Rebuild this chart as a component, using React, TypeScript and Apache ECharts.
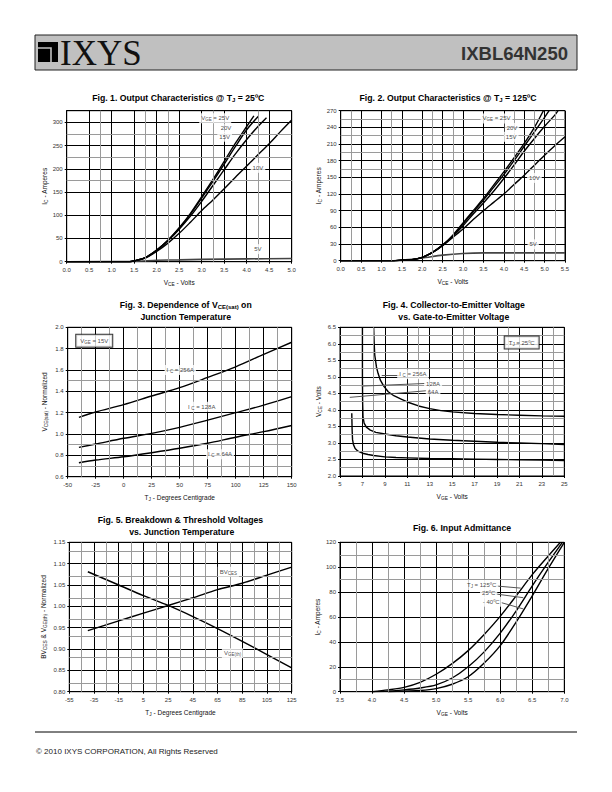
import React, { useEffect, useRef } from "react";
import * as echarts from "echarts";

const NARROW = "'Liberation Sans Narrow','Arial Narrow','Liberation Sans',Arial,sans-serif";
const SANS = "'Liberation Sans',Arial,Helvetica,sans-serif";
const SERIF = "'Liberation Serif','Times New Roman',serif";

// ---------- Fig. 1  Output characteristics @ Tj = 25 C  (VCE [V], IC [A]) ----------
const fig1VGE25 = [[0,0],[1.4,0],[1.5,2],[1.75,9],[2.0,25],[2.25,46],[2.5,73],[2.75,104],[3.0,140],[3.25,177],[3.5,216],[3.75,255],[4.0,291],[4.16,314]];
const fig1VGE20 = [[0,0],[1.4,0],[1.5,2],[1.75,9],[2.0,25],[2.25,46],[2.5,72],[2.75,102],[3.0,137],[3.25,173],[3.5,210],[3.75,248],[4.0,284],[4.26,313]];
const fig1VGE15 = [[0,0],[1.4,0],[1.5,2],[1.75,9],[2.0,24],[2.25,45],[2.5,70],[2.75,98],[3.0,130],[3.25,164],[3.5,198],[3.75,232],[4.0,263],[4.25,291],[4.44,310]];
const fig1VGE10 = [[0,0],[1.4,0],[1.5,2],[1.75,8],[2.0,22],[2.25,40],[2.5,61],[2.75,85],[3.0,110],[3.25,133],[3.5,157],[3.75,182],[4.0,206],[4.25,230],[4.5,254],[4.75,280],[5.0,305]];
const fig1VGE5 = [[0,0],[1.5,1],[2.0,3],[2.5,4],[3.0,5],[4.0,6],[5.0,7]];

// ---------- Fig. 2  Output characteristics @ Tj = 125 C ----------
const fig2VGE25 = [[0,0],[1.3,0],[1.5,1],[1.75,2],[2.0,6],[2.25,15],[2.5,28],[2.75,46],[3.0,68],[3.25,90],[3.5,112],[3.75,136],[4.0,160],[4.25,185],[4.5,211],[4.75,240],[4.97,270]];
const fig2VGE20 = [[0,0],[1.3,0],[1.5,1],[1.75,2],[2.0,6],[2.25,15],[2.5,28],[2.75,45],[3.0,66],[3.25,88],[3.5,109],[3.75,132],[4.0,155],[4.25,180],[4.5,206],[4.75,232],[5.0,258],[5.11,270]];
const fig2VGE15 = [[0,0],[1.3,0],[1.5,1],[1.75,2],[2.0,6],[2.25,15],[2.5,28],[2.75,44],[3.0,63],[3.25,84],[3.5,104],[3.75,125],[4.0,148],[4.25,172],[4.5,197],[4.75,220],[5.0,242],[5.25,262],[5.33,270]];
const fig2VGE10 = [[0,0],[1.3,0],[1.5,1],[1.75,2],[2.0,6],[2.25,15],[2.5,27],[2.75,42],[3.0,57],[3.25,74],[3.5,90],[3.75,105],[4.0,120],[4.25,137],[4.5,154],[4.75,172],[5.0,190],[5.25,207],[5.5,223]];
const fig2VGE5 = [[0,0],[1.3,0],[1.5,1],[2.0,5],[2.5,10],[3.0,13],[3.5,14],[4.5,14],[5.5,14]];

// ---------- Fig. 3  VCE(sat) normalized vs Tj ----------
const fig3Temp = [-40,-25,0,25,50,75,100,125,150];
const fig3IC256 = [1.156,1.206,1.275,1.356,1.434,1.53,1.63,1.747,1.86];
const fig3IC128 = [0.875,0.906,0.96,1.006,1.062,1.13,1.2,1.27,1.35];
const fig3IC64 = [0.731,0.756,0.787,0.825,0.866,0.913,0.97,1.022,1.08];

// ---------- Fig. 4  VCE vs VGE (VGE [V], VCE [V]) ----------
const fig4IC256 = [[8.0,6.5],[8.05,6.0],[8.1,5.66],[8.25,5.3],[8.4,5.1],[8.6,4.9],[8.9,4.72],[9.3,4.55],[9.8,4.43],[10.5,4.32],[11,4.24],[12,4.12],[13,4.04],[14,3.98],[15,3.94],[17,3.89],[19,3.86],[21,3.84],[23,3.82],[25,3.81]];
const fig4IC128 = [[7.0,6.5],[7.0,5.0],[7.02,4.2],[7.05,3.8],[7.15,3.6],[7.35,3.48],[7.7,3.39],[8.2,3.32],[9,3.27],[10,3.22],[11,3.18],[13,3.12],[15,3.08],[17,3.05],[19,3.02],[21,3.0],[23,2.98],[25,2.95]];
const fig4IC64 = [[6.05,3.9],[6.08,3.4],[6.12,3.1],[6.2,2.95],[6.35,2.83],[6.6,2.75],[7,2.69],[7.5,2.65],[8,2.62],[9,2.58],[10,2.56],[11,2.55],[13,2.53],[15,2.52],[17,2.51],[19,2.5],[21,2.49],[23,2.48],[25,2.47]];

// ---------- Fig. 5  BVCES & VGE(th) normalized vs Tj ----------
const fig5Temp = [-40,-15,5,25,45,65,85,105,125];
const fig5BVCES = [0.943,0.966,0.984,1.002,1.02,1.039,1.054,1.073,1.092];
const fig5VGEth = [1.081,1.05,1.025,1.002,0.976,0.948,0.918,0.887,0.856];

// ---------- Fig. 6  Input admittance (VGE [V], IC [A]) ----------
const fig6T125 = [[4.0,0],[4.25,1.5],[4.5,3.5],[4.75,7.5],[5.0,14],[5.25,22.5],[5.5,33],[5.75,46],[6.0,60.5],[6.25,77],[6.5,94],[6.75,109],[6.94,120]];
const fig6T25 = [[4.0,0],[4.25,0.5],[4.5,1.5],[4.75,3],[5.0,5.5],[5.25,11],[5.5,20],[5.75,32],[6.0,47],[6.25,65],[6.5,85],[6.75,104],[6.97,120]];
const fig6Tm40 = [[4.25,0],[4.5,0.5],[4.75,1],[5.0,2.5],[5.25,6],[5.5,12],[5.75,23],[6.0,37],[6.25,56],[6.5,77],[6.75,99],[7.0,120]];

// axis offsets so that ticks are counted from a multiple of the interval
const FIG4_X0 = 5;
const FIG5_X0 = -55;

const SUB = (size: number, bold = false) => ({
  s: { fontSize: size, fontFamily: NARROW, fontWeight: bold ? "bold" : "normal", verticalAlign: "bottom", lineHeight: size + 1, color: "#111" },
});

const zip = (xs: number[], ys: number[], dx = 0) => xs.map((x, i) => [x + dx, ys[i]]);
const shift = (pts: number[][], dx: number) => pts.map((p) => [p[0] + dx, p[1]]);

function xAx(i: number, min: number, max: number, interval: number, fmt: (v: number) => string, name: string, gap: number) {
  return {
    type: "value", gridIndex: i, min, max, interval, name, nameLocation: "middle", nameGap: gap,
    nameTextStyle: { fontFamily: NARROW, fontSize: 6.5, color: "#111", lineHeight: 9, rich: SUB(4.8) },
    axisLine: { show: true, onZero: false, lineStyle: { color: "#000", width: 1 } },
    axisTick: { show: true, length: 2, lineStyle: { color: "#000", width: 1 } },
    axisLabel: { fontFamily: NARROW, fontSize: 6, color: "#333", margin: 5, formatter: fmt },
    splitLine: { show: true, lineStyle: { color: "#000", width: 1 } },
  };
}
function yAx(i: number, min: number, max: number, interval: number, fmt: (v: number) => string, name: string, gap: number, hideMax = false) {
  return {
    type: "value", gridIndex: i, min, max, interval, name, nameLocation: "middle", nameGap: gap,
    nameTextStyle: { fontFamily: NARROW, fontSize: 6.5, color: "#111", lineHeight: 9, rich: SUB(4.8) },
    axisLine: { show: true, onZero: false, lineStyle: { color: "#000", width: 1 } },
    axisTick: { show: true, length: 2, lineStyle: { color: "#000", width: 1 } },
    axisLabel: { fontFamily: NARROW, fontSize: 6, color: "#333", margin: 4, formatter: fmt, showMaxLabel: !hideMax },
    splitLine: { show: true, lineStyle: { color: "#000", width: 1 } },
  };
}
function curve(i: number, data: number[][], color = "#000", width = 1.4, smooth: any = 0.3) {
  return {
    type: "line", xAxisIndex: i, yAxisIndex: i, data, symbol: "none", showSymbol: false, smooth,
    lineStyle: { color, width }, z: 3, silent: true,
  };
}
function minor(i: number, xs: number[], ys: number[]) {
  return {
    type: "line", xAxisIndex: i, yAxisIndex: i, data: [], silent: true, z: 1,
    markLine: {
      silent: true, symbol: ["none", "none"], label: { show: false },
      lineStyle: { color: "#9a9a9a", width: 1, type: "solid" },
      data: [...xs.map((v) => ({ xAxis: v })), ...ys.map((v) => ({ yAxis: v }))],
    },
  };
}
function leaders(i: number, segs: number[][][]) {
  return {
    type: "line", xAxisIndex: i, yAxisIndex: i, data: [], silent: true, z: 4,
    markLine: {
      silent: true, symbol: ["none", "none"], label: { show: false },
      lineStyle: { color: "#555", width: 1, type: "solid" },
      data: segs.map((s) => [{ coord: s[0] }, { coord: s[1] }]),
    },
  };
}
type Note = { x: number; y: number; text: string; box?: boolean };
function notes(i: number, items: Note[]) {
  return {
    type: "scatter", xAxisIndex: i, yAxisIndex: i, symbolSize: 1, itemStyle: { color: "rgba(0,0,0,0)" }, silent: true, z: 6,
    data: items.map((it) => ({
      value: [it.x, it.y],
      label: {
        show: true, position: "inside", formatter: it.text, fontFamily: NARROW, fontSize: 6, color: "#111", lineHeight: 8,
        backgroundColor: "#fff", padding: it.box ? [2, 4] : [1, 2],
        borderColor: it.box ? "#000" : "transparent", borderWidth: it.box ? 1 : 0,
        rich: SUB(4.5),
      },
    })),
  };
}

// annotation placements (data units)
const fig1Notes: Note[] = [
  { x: 3.3, y: 309, text: "V{s|GE} = 25V" }, { x: 3.54, y: 287, text: "20V" }, { x: 3.51, y: 269, text: "15V" },
  { x: 4.25, y: 202, text: "10V" }, { x: 4.25, y: 27, text: "5V" },
];
const fig2Notes: Note[] = [
  { x: 3.82, y: 256, text: "V{s|GE} = 25V" }, { x: 4.2, y: 239, text: "20V" }, { x: 4.18, y: 223, text: "15V" },
  { x: 4.75, y: 149, text: "10V" }, { x: 4.72, y: 29.5, text: "5V" },
];
const fig3Notes: Note[] = [
  { x: -26.3, y: 1.874, text: "V{s|GE} = 15V", box: true },
  { x: 50.5, y: 1.6, text: "I {s|C} = 256A" }, { x: 69.6, y: 1.256, text: "I {s|C} = 128A" }, { x: 86, y: 0.81, text: "I {s|C} = 64A" },
];
const fig4Notes: Note[] = [
  { x: 11.5, y: 5.08, text: "I {s|C} = 256A" }, { x: 13.3, y: 4.78, text: "128A" }, { x: 13.3, y: 4.55, text: "64A" },
  { x: 21.2, y: 6.04, text: "T{s|J} = 25ºC", box: true },
];
const fig4Leaders = [[[8.72, 5.06], [10.3, 5.06]], [[6.94, 4.72], [12.6, 4.8]], [[5.87, 4.38], [12.7, 4.58]]];
const fig5Notes: Note[] = [
  { x: 73.7, y: 1.081, text: "BV{s|CES}" }, { x: 77.1, y: 0.89, text: "V{s|GE(th)}" },
];
const fig6Notes: Note[] = [
  { x: 5.71, y: 85.7, text: "T{s|J} = 125ºC" }, { x: 5.82, y: 79, text: "25ºC" }, { x: 5.86, y: 72.3, text: "- 40ºC" },
];
const fig6Leaders = [[[5.94, 84.9], [6.32, 83.2]], [[5.93, 78.5], [6.36, 75.5]], [[6.02, 71.5], [6.36, 66.5]]];

const f1 = (v: number) => v.toFixed(1);
const f2 = (v: number) => v.toFixed(2);
const f0 = (v: number) => String(Math.round(v));

function titleText(x: number, y: number, text: string) {
  return {
    type: "text", x, y, silent: true,
    style: {
      text, align: "center", verticalAlign: "middle", fontFamily: SANS, fontSize: 8.7, fontWeight: "bold", fill: "#000",
      rich: { s: { fontSize: 6, fontFamily: SANS, fontWeight: "bold", verticalAlign: "bottom", lineHeight: 7, fill: "#000" } },
    },
  };
}

export default function App() {
  const ref = useRef<HTMLDivElement>(null);
  useEffect(() => {
    if (!ref.current) return;
    const chart = echarts.init(ref.current, undefined, { renderer: "svg" });
    const grids = [
      { left: 66.7, top: 110.7, width: 225, height: 151 },
      { left: 340.7, top: 110.7, width: 224.3, height: 150 },
      { left: 67.7, top: 327.3, width: 224, height: 149.4 },
      { left: 340, top: 327.3, width: 224.3, height: 148.7 },
      { left: 69.3, top: 542.3, width: 222.4, height: 149.4 },
      { left: 340, top: 542.3, width: 224.3, height: 149.4 },
    ].map((g) => ({ ...g, show: true, borderColor: "#000", borderWidth: 1, backgroundColor: "#fff", containLabel: false }));

    const option: any = {
      animation: false,
      backgroundColor: "#fff",
      grid: grids,
      xAxis: [
        xAx(0, 0, 5, 0.5, f1, "V{s|CE} - Volts", 16),
        xAx(1, 0, 5.5, 0.5, f1, "V{s|CE} - Volts", 16),
        xAx(2, -50, 150, 25, f0, "T{s|J} - Degrees Centigrade", 16.5),
        xAx(3, 0, 20, 2, (v) => f0(v + FIG4_X0), "V{s|GE} - Volts", 15.5),
        xAx(4, 0, 180, 20, (v) => f0(v + FIG5_X0), "T{s|J} - Degrees Centigrade", 16),
        xAx(5, 3.5, 7.0, 0.5, f1, "V{s|GE} - Volts", 16.5),
      ],
      yAxis: [
        yAx(0, 0, 325, 50, f0, "I{s|C} - Amperes", 17, true),
        yAx(1, 0, 270, 30, f0, "I{s|C} - Amperes", 17),
        yAx(2, 0.6, 2.0, 0.2, f1, "V{s|CE(sat)} - Normalized", 19),
        yAx(3, 2.0, 6.5, 0.5, f1, "V{s|CE} - Volts", 17.5),
        yAx(4, 0.8, 1.15, 0.05, f2, "BV{s|CES} & V{s|GE(th)} - Normalized", 21),
        yAx(5, 0, 120, 20, f0, "I{s|C} - Amperes", 17.5),
      ],
      series: [
        // minor grid lines
        minor(0, [0.75, 1.75, 2.25, 3.25, 4.25], [175, 225, 275]),
        minor(1, [0.25, 1.25, 2.25, 2.75, 4.25, 4.75, 5.25], [165, 195, 225, 255]),
        minor(2, [-37.5, -12.5, 12.5, 37.5, 62.5, 87.5, 112.5, 137.5], [0.7, 0.9, 1.5]),
        minor(3, [3, 7, 11, 15, 19], [2.25, 2.75, 3.25, 3.75, 4.25, 4.75, 5.25, 5.75, 6.25]),
        minor(4, [10, 30, 50, 70, 90, 110, 130, 150, 170], [0.825, 0.875, 0.925, 0.975, 1.025, 1.075, 1.125]),
        minor(5, [3.75, 4.25, 4.75, 5.25, 5.75, 6.25, 6.75], [10, 90, 110]),
        // Fig 1
        curve(0, fig1VGE5, "#444", 1.6),
        curve(0, fig1VGE10), curve(0, fig1VGE15), curve(0, fig1VGE20), curve(0, fig1VGE25),
        notes(0, fig1Notes),
        // Fig 2
        curve(1, fig2VGE5, "#444", 1.6),
        curve(1, fig2VGE10), curve(1, fig2VGE15), curve(1, fig2VGE20), curve(1, fig2VGE25),
        notes(1, fig2Notes),
        // Fig 3
        curve(2, zip(fig3Temp, fig3IC256)), curve(2, zip(fig3Temp, fig3IC128)), curve(2, zip(fig3Temp, fig3IC64)),
        notes(2, fig3Notes),
        // Fig 4
        curve(3, shift(fig4IC256, -FIG4_X0), "#000", 1.4, false),
        curve(3, shift(fig4IC128, -FIG4_X0), "#000", 1.4, false),
        curve(3, shift(fig4IC64, -FIG4_X0), "#000", 1.4, false),
        leaders(3, fig4Leaders.map((s) => s.map((p) => [p[0] - FIG4_X0, p[1]]))),
        notes(3, fig4Notes.map((n) => ({ ...n, x: n.x - FIG4_X0 }))),
        // Fig 5
        curve(4, zip(fig5Temp, fig5BVCES, -FIG5_X0)), curve(4, zip(fig5Temp, fig5VGEth, -FIG5_X0)),
        notes(4, fig5Notes.map((n) => ({ ...n, x: n.x - FIG5_X0 }))),
        // Fig 6
        curve(5, fig6T125), curve(5, fig6T25), curve(5, fig6Tm40),
        leaders(5, fig6Leaders),
        notes(5, fig6Notes),
      ],
      graphic: [
        // header
        { type: "rect", silent: true, shape: { x: 35, y: 35, width: 542, height: 35 }, style: { fill: "#c0c0c0", stroke: "#222", lineWidth: 1 } },
        { type: "rect", silent: true, shape: { x: 38, y: 42, width: 20, height: 20 }, style: { fill: "#000" } },
        { type: "polyline", silent: true, shape: { points: [[38, 48], [51, 48], [51, 62]] }, style: { stroke: "#c0c0c0", lineWidth: 1.6, fill: null } },
        { type: "text", silent: true, x: 60, y: 53, style: { text: "IXYS", fontFamily: SERIF, fontSize: 35, fill: "#111", verticalAlign: "middle", align: "left" } },
        { type: "text", silent: true, x: 568, y: 53, style: { text: "IXBL64N250", fontFamily: SANS, fontSize: 18.5, fontWeight: "bold", fill: "#333", verticalAlign: "middle", align: "right" } },
        // titles
        titleText(178.3, 98.3, "Fig. 1. Output Characteristics @ T{s|J} = 25ºC"),
        titleText(448, 98.3, "Fig. 2. Output Characteristics @ T{s|J} = 125ºC"),
        titleText(185.7, 305, "Fig. 3. Dependence of V{s|CE(sat)} on"),
        titleText(185.7, 316.7, "Junction Temperature"),
        titleText(453.8, 305, "Fig. 4. Collector-to-Emitter Voltage"),
        titleText(453.8, 316.7, "vs. Gate-to-Emitter Voltage"),
        titleText(180.5, 520, "Fig. 5. Breakdown & Threshold Voltages"),
        titleText(181.7, 532.3, "vs. Junction Temperature"),
        titleText(462, 528.3, "Fig. 6. Input Admittance"),
        // footer
        { type: "line", silent: true, shape: { x1: 35, y1: 732, x2: 577, y2: 732 }, style: { stroke: "#000", lineWidth: 1 } },
        { type: "text", silent: true, x: 36, y: 751, style: { text: "© 2010 IXYS CORPORATION, All Rights Reserved", fontFamily: SANS, fontSize: 8, fill: "#222", verticalAlign: "middle", align: "left" } },
      ],
    };
    chart.setOption(option);
    return () => chart.dispose();
  }, []);
  return <div ref={ref} style={{ position: "absolute", left: 0, top: 0, width: 612, height: 792, background: "#fff" }} />;
}
